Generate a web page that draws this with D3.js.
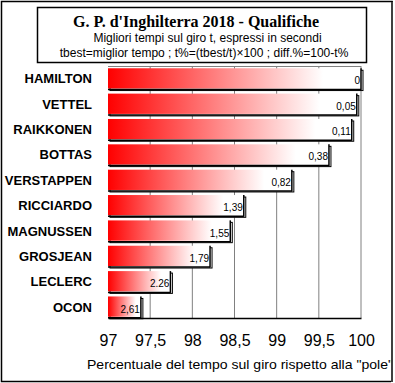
<!DOCTYPE html>
<html><head><meta charset="utf-8">
<script src="https://cdn.jsdelivr.net/npm/d3@7"></script>
<style>body{margin:0;background:#fff}svg{display:block}</style>
</head><body>
<script>
const drivers = ["HAMILTON","VETTEL","RAIKKONEN","BOTTAS","VERSTAPPEN","RICCIARDO","MAGNUSSEN","GROSJEAN","LECLERC","OCON"];
const percent = [100, 99.95, 99.89, 99.62, 99.18, 98.61, 98.45, 98.21, 97.74, 97.39];
const diffLabels = ["0","0,05","0,11","0,38","0,82","1,39","1,55","1,79","2.26","2,61"];
const tickValues = [97, 97.5, 98, 98.5, 99, 99.5, 100];
const tickLabels = ["97","97,5","98","98,5","99","99,5","100"];
const title = "G. P. d'Inghilterra 2018 - Qualifiche";
const subtitle1 = "Migliori tempi sul giro t, espressi in secondi";
const subtitle2 = "tbest=miglior tempo ; t%=(tbest/t)×100 ; diff.%=100-t%";
const axisTitle = "Percentuale del tempo sul giro rispetto alla \"pole\"";

const W = 395, H = 383;
const svg = d3.select("body").append("svg").attr("width", W).attr("height", H);
const sans = "'Liberation Sans', Arial, sans-serif";
const serif = "'Liberation Serif', 'Times New Roman', serif";

// outer border
svg.append("rect").attr("x", 1.5).attr("y", 1.5).attr("width", 390.5).attr("height", 380)
  .attr("fill", "#fff").attr("stroke", "#000").attr("stroke-width", 1.5);

const x = d3.scaleLinear().domain([97, 100]).range([108, 361]);
const y = d3.scaleBand().domain(drivers).range([67, 318]).paddingInner(0.2).paddingOuter(0.05);

// gridlines
const g = svg.append("g");
g.selectAll("line.grid").data(tickValues.slice(1)).join("line")
  .attr("x1", d => x(d)).attr("x2", d => x(d)).attr("y1", 66).attr("y2", 318)
  .attr("stroke", "#808080").attr("stroke-width", 1);
g.append("line").attr("x1", x(97)).attr("x2", x(100)).attr("y1", 66.5).attr("y2", 66.5)
  .attr("stroke", "#808080").attr("stroke-width", 1);

// gradient
const defs = svg.append("defs");
const grad = defs.append("linearGradient").attr("id", "rg").attr("x1", "0").attr("x2", "1").attr("y1", "0").attr("y2", "0");
grad.append("stop").attr("offset", "0%").attr("stop-color", "#ff0000");
grad.append("stop").attr("offset", "85%").attr("stop-color", "#ffffff");
grad.append("stop").attr("offset", "100%").attr("stop-color", "#ffffff");

const bars = svg.append("g").selectAll("g").data(drivers).join("g");
// shadow
bars.append("rect")
  .attr("x", x(97) + 2).attr("y", d => y(d) + 2)
  .attr("width", (d, i) => x(percent[i]) - x(97)).attr("height", y.bandwidth())
  .attr("fill", "#fff").attr("stroke", "#000").attr("stroke-width", 1);
// bar
bars.append("rect")
  .attr("x", x(97)).attr("y", d => y(d))
  .attr("width", (d, i) => x(percent[i]) - x(97)).attr("height", y.bandwidth())
  .attr("fill", "url(#rg)");
bars.append("line")
  .attr("x1", (d, i) => x(percent[i])).attr("x2", (d, i) => x(percent[i]))
  .attr("y1", d => y(d)).attr("y2", d => y(d) + y.bandwidth() + 1.5)
  .attr("stroke", "#000").attr("stroke-width", 1.5);
bars.append("line")
  .attr("x1", x(97)).attr("x2", (d, i) => x(percent[i]))
  .attr("y1", d => y(d) + y.bandwidth() + 1).attr("y2", d => y(d) + y.bandwidth() + 1)
  .attr("stroke", "#000").attr("stroke-width", 1.5);
// value labels
bars.append("text")
  .attr("x", (d, i) => x(percent[i]) - 1).attr("y", d => y(d) + y.bandwidth() / 2 + 6)
  .attr("text-anchor", "end").attr("font-family", sans).attr("font-size", 10)
  .attr("fill", "#000").text((d, i) => diffLabels[i]);

// category labels
svg.append("g").selectAll("text").data(drivers).join("text")
  .attr("x", 92).attr("y", d => y(d) + y.bandwidth() / 2 + 5)
  .attr("text-anchor", "end").attr("font-family", sans).attr("font-weight", "bold")
  .attr("font-size", 13).text(d => d);

// x axis
const axis = d3.axisBottom(x).tickValues(tickValues).tickSize(0).tickPadding(17)
  .tickFormat((d, i) => tickLabels[i]);
const ax = svg.append("g").attr("transform", "translate(0,318)").call(axis);
ax.select(".domain").attr("stroke", "#000").attr("stroke-width", 1.5);
ax.selectAll("text").attr("font-family", sans).attr("font-size", 16).attr("fill", "#000");

svg.append("text").attr("x", 87).attr("y", 369).attr("font-family", sans).attr("font-size", 13)
  .attr("textLength", 306).attr("lengthAdjust", "spacingAndGlyphs").text(axisTitle);

// title box
svg.append("rect").attr("x", 37.5).attr("y", 7.5).attr("width", 329).attr("height", 55)
  .attr("fill", "#fff").attr("stroke", "#000").attr("stroke-width", 1.5);
svg.append("text").attr("x", 196).attr("y", 26.5).attr("text-anchor", "middle")
  .attr("font-family", serif).attr("font-weight", "bold").attr("font-size", 16).text(title);
svg.append("text").attr("x", 207.5).attr("y", 42).attr("text-anchor", "middle")
  .attr("font-family", sans).attr("font-size", 12).text(subtitle1);
svg.append("text").attr("x", 204).attr("y", 57).attr("text-anchor", "middle")
  .attr("font-family", sans).attr("font-size", 12).text(subtitle2);

// re-draw outer border on top so the axis title is clipped by it
svg.append("rect").attr("x", 391).attr("y", 2).attr("width", 4).attr("height", 381).attr("fill", "#fff");
svg.append("line").attr("x1", 392).attr("x2", 392).attr("y1", 1).attr("y2", 382).attr("stroke", "#000").attr("stroke-width", 1.5);
</script>
</body></html>
